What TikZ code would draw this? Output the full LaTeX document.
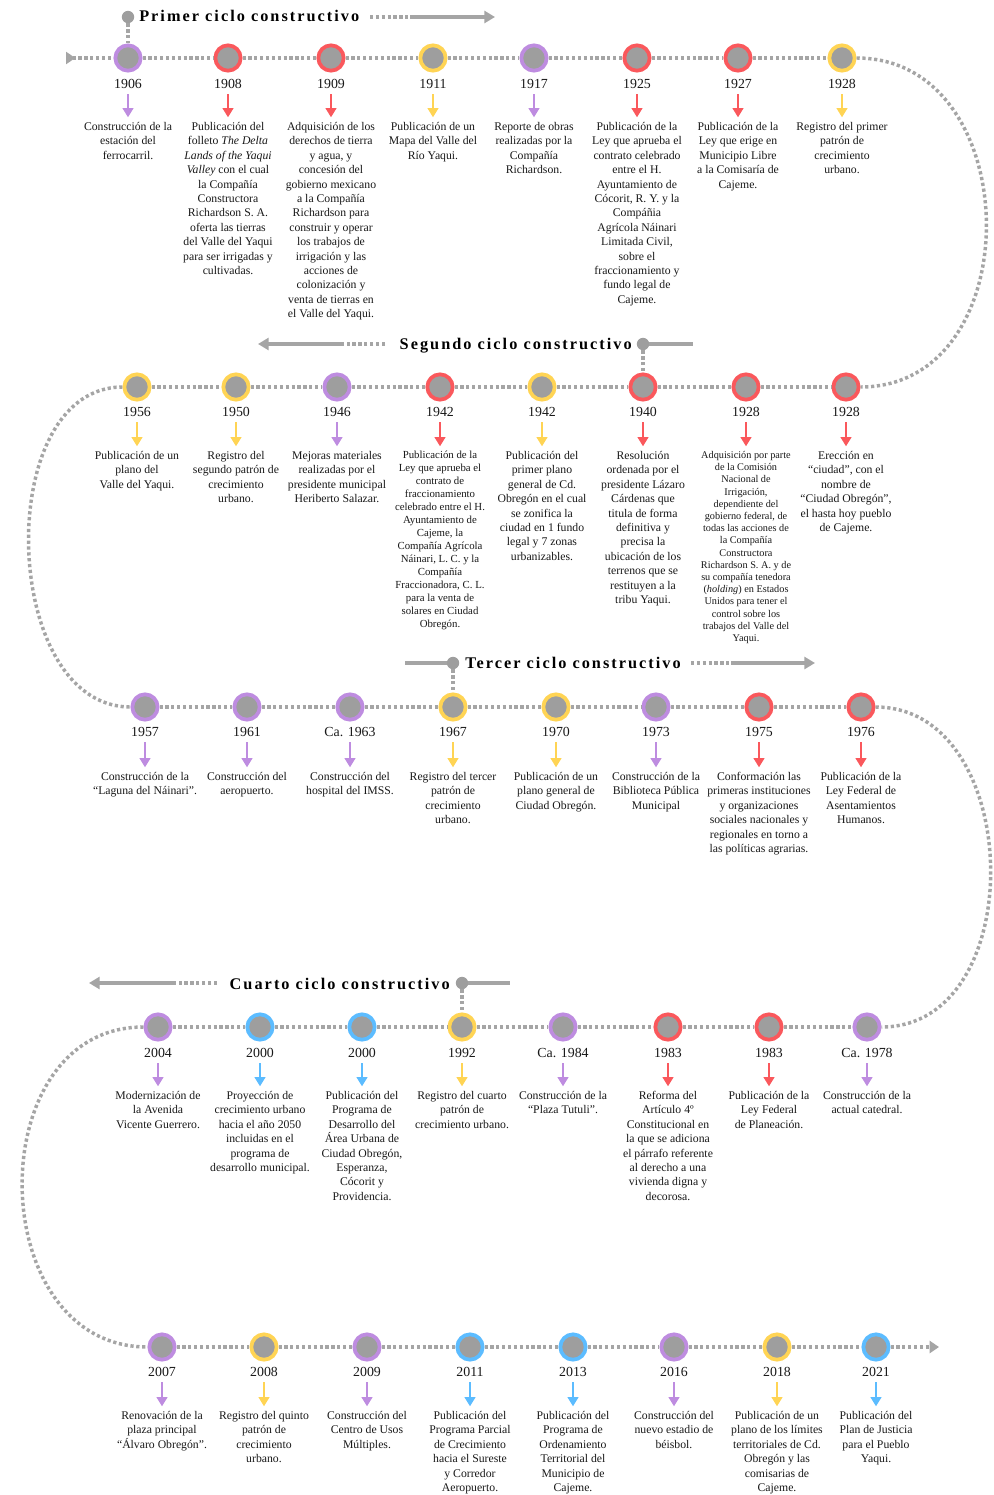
\documentclass[tikz,border=0pt]{standalone}
\usepackage{fontspec}
\setmainfont{Liberation Serif}
\newfontfamily\cyclefont{Liberation Serif}[LetterSpace=12.5]
\usetikzlibrary{arrows.meta}
\definecolor{vio}{RGB}{190,140,224}
\definecolor{roj}{RGB}{250,88,92}
\definecolor{ama}{RGB}{255,212,84}
\definecolor{azu}{RGB}{92,188,255}
\definecolor{hub}{RGB}{158,158,158}
\definecolor{lin}{RGB}{165,165,165}
\definecolor{ink}{RGB}{25,25,25}
\newcommand\evf{\fontsize{8.8}{10.8}\selectfont}
\newcommand\evsf{\fontsize{8.1}{9.75}\selectfont}
\newcommand\evtf{\fontsize{7.7}{9.15}\selectfont}

\begin{document}
\begin{tikzpicture}[x=0.75pt,y=-0.75pt,
 ring/.style={circle,draw=#1,line width=2.8pt,fill=hub,minimum size=19pt,inner sep=0pt},
 yr/.style={font=\fontsize{10.4}{12}\selectfont,text=ink,inner sep=0pt},
 ev/.style={align=center,text=ink,inner sep=0pt,anchor=north},
 dotline/.style={draw=lin,line width=2.6pt,dash pattern=on 2.4pt off 2pt},
 gline/.style={draw=lin,line width=2.4pt},
 evarrow/.style={draw=#1,line width=2.2pt,-{Triangle[width=8pt,length=7pt]},shorten <=4pt,shorten >=3.5pt},
 cyclettl/.style={font=\cyclefont\bfseries\fontsize{12.2}{14}\selectfont,text=black,inner sep=0pt},
 hubdot/.style={circle,fill=hub,minimum size=9.3pt,inner sep=0pt},
 >={Triangle[width=9pt,length=8pt]}]
\path[use as bounding box,fill=white] (0,0) rectangle (993,1495);

\foreach \x/\yr/\col/\fs/\txt [count=\i] in {128/1906/vio/\evf/{Construcción de la\\estación del\\ferrocarril.},
 228/1908/roj/\evf/{Publicación del\\folleto \textit{The Delta}\\\textit{Lands of the Yaqui}\\\textit{Valley} con el cual\\la Compañía\\Constructora\\Richardson S. A.\\oferta las tierras\\del Valle del Yaqui\\para ser irrigadas y\\cultivadas.},
 331/1909/roj/\evf/{Adquisición de los\\derechos de tierra\\y agua, y\\concesión del\\gobierno mexicano\\a la Compañía\\Richardson para\\construir y operar\\los trabajos de\\irrigación y las\\acciones de\\colonización y\\venta de tierras en\\el Valle del Yaqui.},
 433/1911/ama/\evf/{Publicación de un\\Mapa del Valle del\\Río Yaqui.},
 534/1917/vio/\evf/{Reporte de obras\\realizadas por la\\Compañía\\Richardson.},
 637/1925/roj/\evf/{Publicación de la\\Ley que aprueba el\\contrato celebrado\\entre el H.\\Ayuntamiento de\\Cócorit, R. Y. y la\\Compáñia\\Agrícola Náinari\\Limitada Civil,\\sobre el\\fraccionamiento y\\fundo legal de\\Cajeme.},
 738/1927/roj/\evf/{Publicación de la\\Ley que erige en\\Municipio Libre\\a la Comisaría de\\Cajeme.},
 842/1928/ama/\evf/{Registro del primer\\patrón de\\crecimiento\\urbano.}}{
 \node[ring=\col] (pc-\i) at (\x,58) {};
 \node[yr] (pc-\i-y) at (\x,84) {\yr};
 \node[ev,font=\fs] (pc-\i-t) at (\x,122) {\txt};
 \draw[evarrow=\col] (pc-\i-y) -- (pc-\i-t);
}
\foreach \i [remember=\i as \j (initially 1)] in {2,...,8}
 \draw[dotline] (pc-\j) -- (pc-\i);

\foreach \x/\yr/\col/\fs/\txt [count=\i] in {137/1956/ama/\evf/{Publicación de un\\plano del\\Valle del Yaqui.},
 236/1950/ama/\evf/{Registro del\\segundo patrón de\\crecimiento\\urbano.},
 337/1946/vio/\evf/{Mejoras materiales\\realizadas por el\\presidente municipal\\Heriberto Salazar.},
 440/1942/roj/\evsf/{Publicación de la\\Ley que aprueba el\\contrato de\\fraccionamiento\\celebrado entre el H.\\Ayuntamiento de\\Cajeme, la\\Compañía Agrícola\\Náinari, L. C. y la\\Compañía\\Fraccionadora, C. L.\\para la venta de\\solares en Ciudad\\Obregón.},
 542/1942/ama/\evf/{Publicación del\\primer plano\\general de Cd.\\Obregón en el cual\\se zonifica la\\ciudad en 1 fundo\\legal y 7 zonas\\urbanizables.},
 643/1940/roj/\evf/{Resolución\\ordenada por el\\presidente Lázaro\\Cárdenas que\\titula de forma\\definitiva y\\precisa la\\ubicación de los\\terrenos que se\\restituyen a la\\tribu Yaqui.},
 746/1928/roj/\evtf/{Adquisición por parte\\de la Comisión\\Nacional de\\Irrigación,\\dependiente del\\gobierno federal, de\\todas las acciones de\\la Compañía\\Constructora\\Richardson S. A. y de\\su compañía tenedora\\(\textit{holding}) en Estados\\Unidos para tener el\\control sobre los\\trabajos del Valle del\\Yaqui.},
 846/1928/roj/\evf/{Erección en\\“ciudad”, con el\\nombre de\\“Ciudad Obregón”,\\el hasta hoy pueblo\\de Cajeme.}}{
 \node[ring=\col] (sc-\i) at (\x,387) {};
 \node[yr] (sc-\i-y) at (\x,412) {\yr};
 \node[ev,font=\fs] (sc-\i-t) at (\x,451) {\txt};
 \draw[evarrow=\col] (sc-\i-y) -- (sc-\i-t);
}
\foreach \i [remember=\i as \j (initially 1)] in {2,...,8}
 \draw[dotline] (sc-\j) -- (sc-\i);

\foreach \x/\yr/\col/\fs/\txt [count=\i] in {145/1957/vio/\evf/{Construcción de la\\“Laguna del Náinari”.},
 247/1961/vio/\evf/{Construcción del\\aeropuerto.},
 350/Ca. 1963/vio/\evf/{Construcción del\\hospital del IMSS.},
 453/1967/ama/\evf/{Registro del tercer\\patrón de\\crecimiento\\urbano.},
 556/1970/ama/\evf/{Publicación de un\\plano general de\\Ciudad Obregón.},
 656/1973/vio/\evf/{Construcción de la\\Biblioteca Pública\\Municipal},
 759/1975/roj/\evf/{Conformación las\\primeras instituciones\\y organizaciones\\sociales nacionales y\\regionales en torno a\\las políticas agrarias.},
 861/1976/roj/\evf/{Publicación de la\\Ley Federal de\\Asentamientos\\Humanos.}}{
 \node[ring=\col] (tc-\i) at (\x,707) {};
 \node[yr] (tc-\i-y) at (\x,732) {\yr};
 \node[ev,font=\fs] (tc-\i-t) at (\x,772) {\txt};
 \draw[evarrow=\col] (tc-\i-y) -- (tc-\i-t);
}
\foreach \i [remember=\i as \j (initially 1)] in {2,...,8}
 \draw[dotline] (tc-\j) -- (tc-\i);

\foreach \x/\yr/\col/\fs/\txt [count=\i] in {158/2004/vio/\evf/{Modernización de\\la Avenida\\Vicente Guerrero.},
 260/2000/azu/\evf/{Proyección de\\crecimiento urbano\\hacia el año 2050\\incluidas en el\\programa de\\desarrollo municipal.},
 362/2000/azu/\evf/{Publicación del\\Programa de\\Desarrollo del\\Área Urbana de\\Ciudad Obregón,\\Esperanza,\\Cócorit y\\Providencia.},
 462/1992/ama/\evf/{Registro del cuarto\\patrón de\\crecimiento urbano.},
 563/Ca. 1984/vio/\evf/{Construcción de la\\“Plaza Tutuli”.},
 668/1983/roj/\evf/{Reforma del\\Artículo 4º\\Constitucional en\\la que se adiciona\\el párrafo referente\\al derecho a una\\vivienda digna y\\decorosa.},
 769/1983/roj/\evf/{Publicación de la\\Ley Federal\\de Planeación.},
 867/Ca. 1978/vio/\evf/{Construcción de la\\actual catedral.}}{
 \node[ring=\col] (cc-\i) at (\x,1027) {};
 \node[yr] (cc-\i-y) at (\x,1053) {\yr};
 \node[ev,font=\fs] (cc-\i-t) at (\x,1091) {\txt};
 \draw[evarrow=\col] (cc-\i-y) -- (cc-\i-t);
}
\foreach \i [remember=\i as \j (initially 1)] in {2,...,8}
 \draw[dotline] (cc-\j) -- (cc-\i);

\foreach \x/\yr/\col/\fs/\txt [count=\i] in {162/2007/vio/\evf/{Renovación de la\\plaza principal\\“Álvaro Obregón”.},
 264/2008/ama/\evf/{Registro del quinto\\patrón de\\crecimiento\\urbano.},
 367/2009/vio/\evf/{Construcción del\\Centro de Usos\\Múltiples.},
 470/2011/azu/\evf/{Publicación del\\Programa Parcial\\de Crecimiento\\hacia el Sureste\\y Corredor\\Aeropuerto.},
 573/2013/azu/\evf/{Publicación del\\Programa de\\Ordenamiento\\Territorial del\\Municipio de\\Cajeme.},
 674/2016/vio/\evf/{Construcción del\\nuevo estadio de\\béisbol.},
 777/2018/ama/\evf/{Publicación de un\\plano de los límites\\territoriales de Cd.\\Obregón y las\\comisarias de\\Cajeme.},
 876/2021/azu/\evf/{Publicación del\\Plan de Justicia\\para el Pueblo\\Yaqui.}}{
 \node[ring=\col] (qc-\i) at (\x,1347) {};
 \node[yr] (qc-\i-y) at (\x,1372) {\yr};
 \node[ev,font=\fs] (qc-\i-t) at (\x,1411) {\txt};
 \draw[evarrow=\col] (qc-\i-y) -- (qc-\i-t);
}
\foreach \i [remember=\i as \j (initially 1)] in {2,...,8}
 \draw[dotline] (qc-\j) -- (qc-\i);

\coordinate (pc-in) at (66,58);
\coordinate (qc-out) at (939,1347);
\draw[dotline,{Triangle[reversed,width=9pt,length=7pt]}-] (pc-in) -- (pc-1);
\draw[dotline,-{Triangle[width=9pt,length=7pt]}] (qc-8) -- (qc-out);
\draw[dotline] (pc-8) .. controls +(185,0) and +(185,0) .. (sc-8);
\draw[dotline] (sc-1) .. controls +(-145,0) and +(-145,0) .. (tc-1);
\draw[dotline] (tc-8) .. controls +(164,0) and +(164,0) .. (cc-8);
\draw[dotline] (cc-1) .. controls +(-179,0) and +(-179,0) .. (qc-1);

\node[hubdot] (pc-dot) at (128,17) {};
\node[cyclettl,anchor=base west] (pc-ttl) at (139,22) {Primer ciclo constructivo};
\coordinate (pc-a1) at (370,17);
\coordinate (pc-a2) at (410,17);
\coordinate (pc-a3) at (495,17);
\draw[dotline] (pc-dot) -- (pc-1);
\draw[dotline] (pc-a1) -- (pc-a2);
\draw[gline,->] (pc-a2) -- (pc-a3);

\node[hubdot] (sc-dot) at (643,344) {};
\node[cyclettl,anchor=base east] (sc-ttl) at (632,349) {Segundo ciclo constructivo};
\coordinate (sc-e) at (693,344);
\coordinate (sc-a1) at (385,344);
\coordinate (sc-a2) at (344,344);
\coordinate (sc-a3) at (258,344);
\draw[gline] (sc-dot) -- (sc-e);
\draw[dotline] (sc-dot) -- (sc-6);
\draw[dotline] (sc-a1) -- (sc-a2);
\draw[gline,->] (sc-a2) -- (sc-a3);

\node[hubdot] (tc-dot) at (453,663) {};
\node[cyclettl,anchor=base west] (tc-ttl) at (465,668) {Tercer ciclo constructivo};
\coordinate (tc-w) at (405,663);
\coordinate (tc-a1) at (691,663);
\coordinate (tc-a2) at (731,663);
\coordinate (tc-a3) at (815,663);
\draw[gline] (tc-w) -- (tc-dot);
\draw[dotline] (tc-dot) -- (tc-4);
\draw[dotline] (tc-a1) -- (tc-a2);
\draw[gline,->] (tc-a2) -- (tc-a3);

\node[hubdot] (cc-dot) at (462,983) {};
\node[cyclettl,anchor=base east] (cc-ttl) at (450,989) {Cuarto ciclo constructivo};
\coordinate (cc-e) at (510,983);
\coordinate (cc-a1) at (217,983);
\coordinate (cc-a2) at (174,983);
\coordinate (cc-a3) at (89,983);
\draw[gline] (cc-dot) -- (cc-e);
\draw[dotline] (cc-dot) -- (cc-4);
\draw[dotline] (cc-a1) -- (cc-a2);
\draw[gline,->] (cc-a2) -- (cc-a3);
\end{tikzpicture}
\end{document}
